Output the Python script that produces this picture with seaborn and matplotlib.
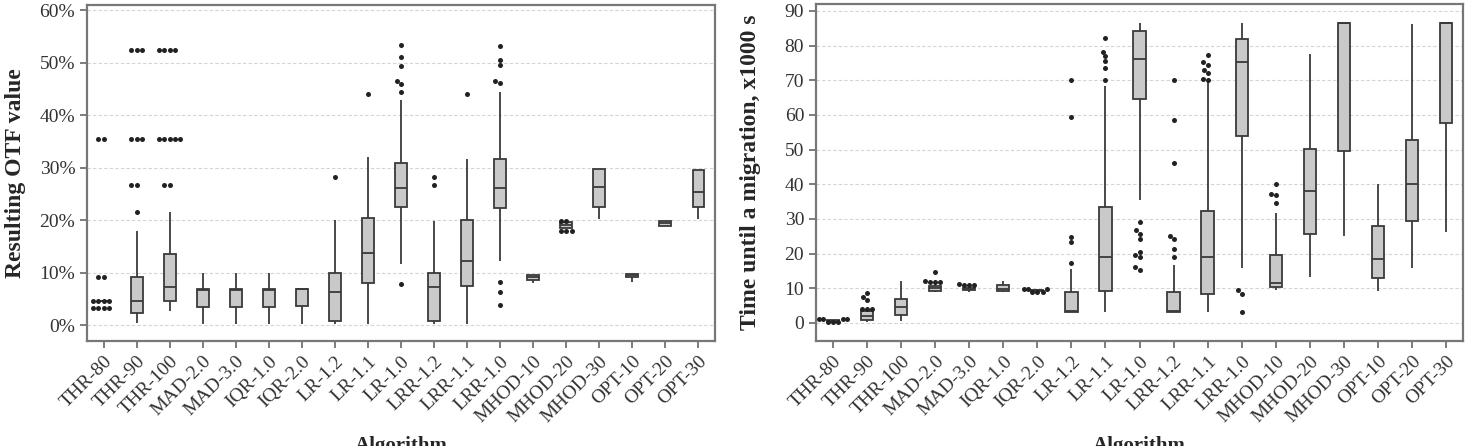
import numpy as np
import pandas as pd
import matplotlib
matplotlib.use("Agg")
import matplotlib.pyplot as plt
from matplotlib.ticker import FuncFormatter
import seaborn as sns

# algorithm names (x categories)
algorithms = ["THR-80", "THR-90", "THR-100", "MAD-2.0", "MAD-3.0", "IQR-1.0",
              "IQR-2.0", "LR-1.2", "LR-1.1", "LR-1.0", "LRR-1.2", "LRR-1.1",
              "LRR-1.0", "MHOD-10", "MHOD-20", "MHOD-30", "OPT-10", "OPT-20", "OPT-30"]

# left panel: resulting OTF value, % (five-number summary)
otf_low = [4.7, 0.45, 2.7, 0.3, 0.3, 0.3, 0.3, 0.3, 0.3, 11.6, 0.3, 0.3, 12.2,
           8.0, 18.6, 20.2, 8.2, 18.9, 20.2]
otf_q1 = [4.7, 2.4, 4.65, 3.5, 3.5, 3.5, 3.6, 0.8, 8.1, 22.6, 0.8, 7.5, 22.3,
          8.6, 18.6, 22.5, 9.2, 19.0, 22.5]
otf_med = [4.7, 4.7, 7.2, 6.7, 6.7, 6.7, 6.95, 6.4, 13.7, 26.1, 7.2, 12.3, 26.1,
           9.1, 19.1, 26.4, 9.5, 19.4, 25.3]
otf_q3 = [4.7, 9.1, 13.5, 6.95, 6.95, 6.95, 6.95, 9.9, 20.4, 31.0, 9.9, 20.1, 31.7,
          9.5, 19.6, 29.7, 9.75, 19.8, 29.6]
otf_high = [4.7, 18.0, 21.5, 9.9, 9.9, 9.9, 6.95, 20.1, 32.0, 42.9, 19.9, 31.7, 44.4,
            9.5, 19.6, 29.7, 9.75, 19.9, 29.6]
otf_outliers = [
    [3.2, 3.2, 3.2, 3.2, 4.7, 4.7, 4.7, 4.7, 9.1, 9.1, 35.5, 35.5],
    [21.5, 26.8, 26.8, 35.5, 35.5, 35.5, 52.4, 52.4, 52.4],
    [26.8, 26.8, 35.5, 35.5, 35.5, 35.5, 35.5, 52.4, 52.4, 52.4, 52.4],
    [], [], [], [],
    [28.3],
    [44.1],
    [7.9, 44.4, 46.0, 46.5, 49.4, 51.1, 53.3],
    [26.8, 28.3],
    [44.1],
    [3.95, 6.4, 8.15, 46.2, 46.6, 49.5, 50.6, 53.1],
    [],
    [18.0, 18.0, 18.0, 19.9, 19.9],
    [],
    [],
    [],
    [],
]

# right panel: time until a migration, x1000 s
mig_low = [0.5, 0.4, 0.6, 9.0, 9.0, 8.9, 9.2, 3.3, 3.3, 35.6, 3.3, 3.3, 15.8,
           9.5, 13.4, 25.2, 9.3, 15.8, 26.1]
mig_q1 = [0.5, 1.0, 2.3, 9.3, 9.4, 9.2, 9.2, 3.3, 9.3, 64.7, 3.3, 8.3, 54.0,
          10.5, 25.8, 49.7, 12.9, 29.4, 57.8]
mig_med = [0.7, 2.0, 4.5, 10.0, 9.9, 9.9, 9.4, 3.5, 19.1, 76.0, 3.5, 19.1, 75.2,
           11.6, 38.0, 86.4, 18.5, 40.2, 86.4]
mig_q3 = [0.9, 3.5, 6.8, 10.6, 10.2, 11.0, 9.6, 8.9, 33.5, 84.1, 9.0, 32.4, 81.8,
          19.5, 50.1, 86.4, 28.0, 52.7, 86.4]
mig_high = [0.9, 4.2, 12.1, 11.5, 10.6, 12.0, 9.6, 15.5, 68.3, 86.4, 16.7, 69.5, 86.4,
            31.6, 77.7, 86.4, 40.1, 86.1, 86.4]
mig_outliers = [
    [0.3, 0.3, 0.3, 1.1, 1.1, 1.1, 1.1],
    [4.0, 4.0, 4.0, 6.6, 7.6, 8.6],
    [],
    [11.7, 11.7, 11.7, 12.0, 14.6],
    [10.9, 10.9, 10.9, 11.3],
    [],
    [9.0, 9.0, 9.0, 9.8, 9.8, 9.8],
    [17.2, 23.4, 24.9, 59.5, 70.0],
    [70.2, 73.4, 75.5, 77.0, 78.2, 82.3],
    [15.3, 16.2, 18.9, 19.6, 20.6, 24.1, 25.8, 26.8, 29.1],
    [19.1, 21.2, 24.1, 25.1, 46.2, 58.5, 70.0],
    [70.0, 70.5, 72.0, 73.0, 74.5, 75.3, 77.2],
    [3.2, 8.5, 9.5],
    [34.7, 36.8, 37.1, 40.2],
    [], [], [], [], [],
]


def long_form(low, q1, med, q3, high):
    rows = []
    for name, vals in zip(algorithms, zip(low, q1, med, q3, high)):
        for v in vals:
            rows.append({"Algorithm": name, "value": v})
    return pd.DataFrame(rows)


def outlier_form(outliers):
    rows = []
    for name, vals in zip(algorithms, outliers):
        for v in vals:
            rows.append({"Algorithm": name, "value": v})
    return pd.DataFrame(rows)


sns.set_theme(style="white")
plt.rcParams["font.family"] = ["Liberation Serif", "DejaVu Serif"]

fig = plt.figure(figsize=(14.67, 4.46), dpi=100)
ax1 = fig.add_axes([87 / 1467, 1 - 341 / 446, 628 / 1467, 336 / 446])
ax2 = fig.add_axes([816 / 1467, 1 - 341 / 446, 647 / 1467, 337 / 446])

edge = "#3a3a3a"
box_kw = dict(
    boxprops=dict(facecolor="#c9c9c9", edgecolor=edge, linewidth=1.3),
    whiskerprops=dict(color=edge, linewidth=1.3),
    medianprops=dict(color=edge, linewidth=1.3),
    capprops=dict(linewidth=0),
)


def draw_panel(ax, df, out_df, ylabel, yticks, ylim, fmt):
    for y in yticks:
        ax.axhline(y, color="#d4d4d4", linestyle=(0, (3, 2)), linewidth=0.8, zorder=0)
    sns.boxplot(data=df, x="Algorithm", y="value", order=algorithms, ax=ax,
                whis=(0, 100), showfliers=False, width=0.36, **box_kw)
    sns.swarmplot(data=out_df, x="Algorithm", y="value", order=algorithms, ax=ax,
                  color="#222222", size=3.6, linewidth=0)
    ax.set_ylim(*ylim)
    ax.set_xlim(-0.5, len(algorithms) - 0.5)
    ax.set_yticks(yticks)
    ax.yaxis.set_major_formatter(FuncFormatter(fmt))
    ax.set_ylabel(ylabel, fontsize=17, fontweight="bold")
    ax.set_xlabel("Algorithm", fontsize=15, fontweight="bold")
    ax.xaxis.set_label_coords(0.5, -0.283)
    ax.tick_params(axis="both", labelsize=14, colors="#333333", length=5,
                   width=1.2, direction="out", left=True, bottom=True)
    ax.tick_params(axis="both", color="#666666")
    plt.setp(ax.get_xticklabels(), rotation=45, ha="right", rotation_mode="anchor")
    for s in ax.spines.values():
        s.set_color("#777777")
        s.set_linewidth(1.6)


draw_panel(ax1, long_form(otf_low, otf_q1, otf_med, otf_q3, otf_high),
           outlier_form(otf_outliers), "Resulting OTF value",
           list(range(0, 61, 10)), (-3, 61), lambda v, p: f"{v:.0f}%")
ax1.yaxis.set_label_coords(-0.097, 0.5)

draw_panel(ax2, long_form(mig_low, mig_q1, mig_med, mig_q3, mig_high),
           outlier_form(mig_outliers), "Time until a migration, x1000 s",
           list(range(0, 91, 10)), (-5.2, 92), lambda v, p: f"{v:.0f}")
ax2.yaxis.set_label_coords(-0.085, 0.5)

fig.savefig("out.png", dpi=100)
